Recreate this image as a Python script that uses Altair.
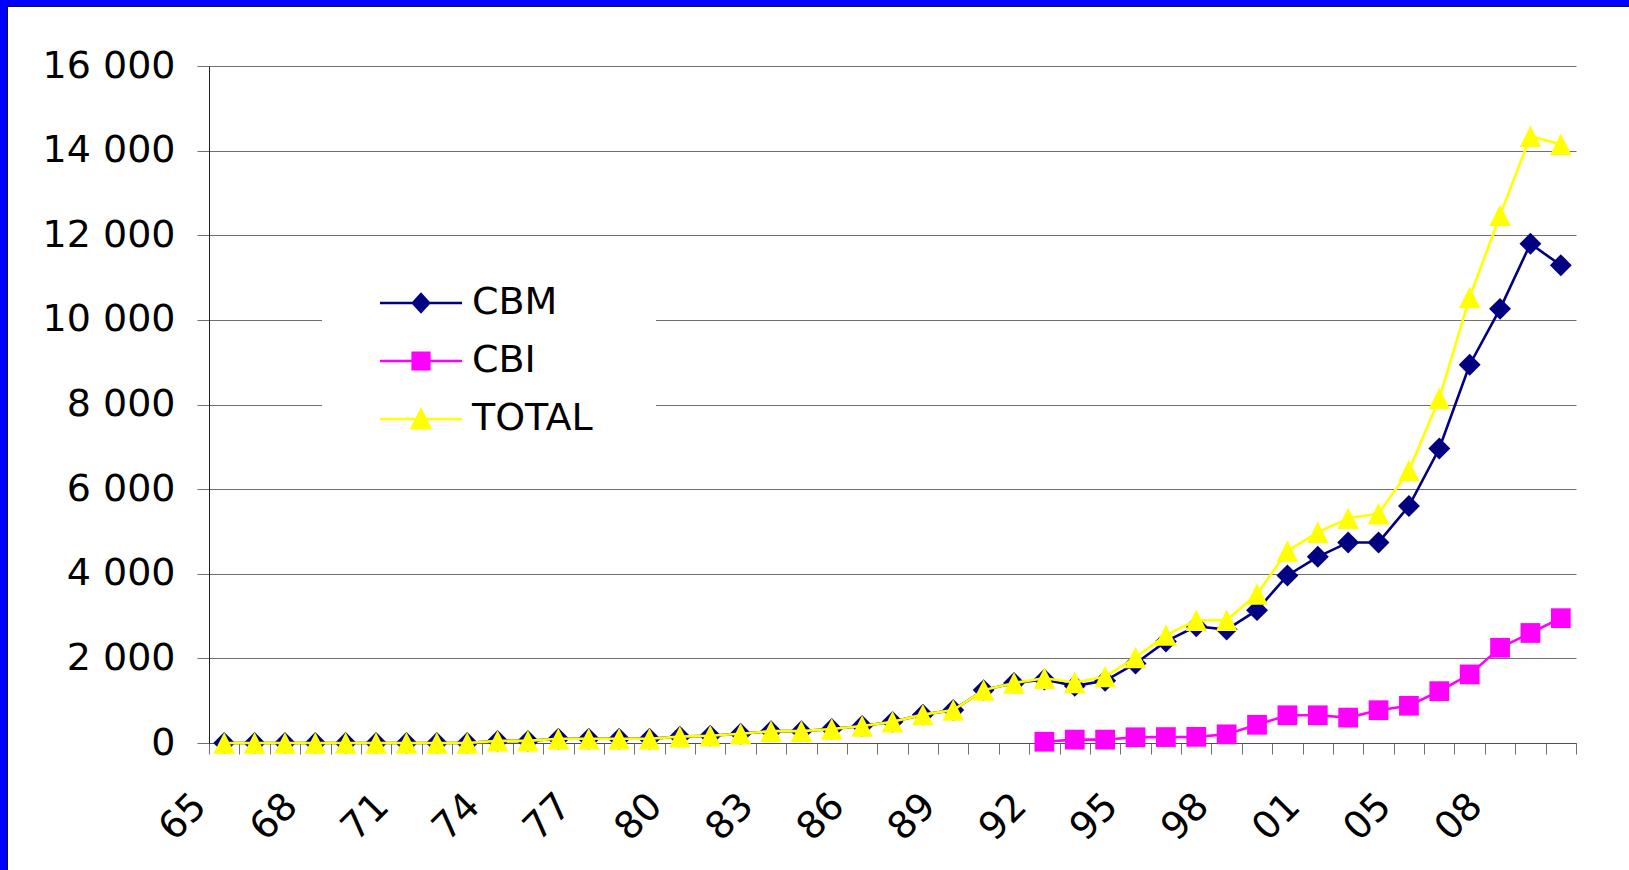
import altair as alt
import pandas as pd

# Two-digit year categories (2004 is not in the series)
YEARS = ["65", "66", "67", "68", "69", "70", "71", "72", "73", "74",
         "75", "76", "77", "78", "79", "80", "81", "82", "83", "84",
         "85", "86", "87", "88", "89", "90", "91", "92", "93", "94",
         "95", "96", "97", "98", "99", "00", "01", "02", "03", "05",
         "06", "07", "08", "09", "10"]
TICK_LABELS = ["65", "68", "71", "74", "77", "80", "83", "86", "89", "92",
               "95", "98", "01", "05", "08"]

CBM = [0, 0, 0, 0, 0, 0, 0, 0, 0, 50,
       50, 100, 100, 100, 100, 150, 170, 220, 280, 280,
       330, 400, 500, 670, 780, 1250, 1420, 1500, 1350, 1470,
       1880, 2400, 2760, 2680, 3140, 3960, 4400, 4740, 4740, 5600,
       6960, 8940, 10260, 11800, 11290]
CBI = [None] * 27 + [30, 80, 80, 135, 140, 145, 205, 430, 655, 655,
                     600, 775, 880, 1225, 1620, 2250, 2600, 2950]
TOTAL = [0, 0, 0, 0, 0, 0, 0, 0, 0, 50,
         50, 100, 100, 100, 100, 150, 170, 220, 280, 280,
         330, 400, 500, 670, 780, 1250, 1420, 1530, 1430, 1570,
         2020, 2550, 2900, 2900, 3520, 4540, 4980, 5310, 5420, 6440,
         8140, 10530, 12470, 14340, 14150]

SERIES = ["CBM", "CBI", "TOTAL"]
COLORS = ["#000080", "#ff00ff", "#ffff00"]
MARKERS = ["diamond", "square", "M0,-1L1,1L-1,1Z"]
MARKER_SIZES = [480, 390, 460]
# legend symbols: a short line segment with the marker drawn in its middle
LEGEND_SYMBOLS = [
    "M-4.1,0L4.1,0M-0.82,0L0,-0.9L0.82,0L0,0.9Z",
    "M-4.1,0L4.1,0M-0.84,-0.84L0.84,-0.84L0.84,0.84L-0.84,0.84Z",
    "M-4.1,0L4.1,0M0,-0.92L0.92,0.92L-0.92,0.92Z",
]

rows = []
for name, vals in zip(SERIES, [CBM, CBI, TOTAL]):
    for yr, v in zip(YEARS, vals):
        if v is not None:
            rows.append({"year": yr, "series": name, "value": v})
df = pd.DataFrame(rows)

FONT = "DejaVu Sans"
W, H = 1367, 677
LEFT, TOP = 209, 66
CANVAS_W, CANVAS_H = 1629, 870

tick_list = "[" + ",".join("'%s'" % t for t in TICK_LABELS) + "]"

X = alt.X(
    "year:N",
    sort=YEARS,
    scale=alt.Scale(type="band", domain=YEARS, paddingInner=0, paddingOuter=0),
    axis=alt.Axis(
        title=None,
        tickBand="extent",
        tickSize=11,
        tickColor="#707070",
        tickWidth=1,
        domainColor="#505050",
        domainWidth=1,
        grid=False,
        labelExpr="indexof(%s, datum.value) >= 0 ? datum.value : ''" % tick_list,
        labelAngle=315,
        labelAlign="right",
        labelBaseline="middle",
        labelOffset=-24,
        labelPadding=46,
        labelFont=FONT,
        labelFontSize=38,
        labelColor="black",
        labelOverlap=False,
        labelBound=False,
    ),
)
Y = alt.Y(
    "value:Q",
    scale=alt.Scale(domain=[0, 16000], nice=False, zero=True),
    axis=alt.Axis(
        title=None,
        values=list(range(0, 16001, 2000)),
        labelExpr="replace(format(datum.value, ','), ',', ' ')",
        tickSize=12,
        tickColor="#707070",
        domainColor="#202020",
        domainWidth=1,
        grid=True,
        gridColor="#707070",
        gridWidth=1,
        labelPadding=22,
        labelFont=FONT,
        labelFontSize=38,
        labelColor="black",
        labelBaseline="middle",
    ),
)

base = alt.Chart(df)

# white panel behind the legend
one = pd.DataFrame({"k": [0]})
legend_panel = alt.Chart(one).mark_rect(fill="white").encode(
    x=alt.value(322 - LEFT), x2=alt.value(656 - LEFT),
    y=alt.value(255 - TOP), y2=alt.value(470 - TOP),
)

layers = [legend_panel]
for name, color, shape, size in zip(SERIES, COLORS, MARKERS, MARKER_SIZES):
    sub = base.transform_filter(alt.datum.series == name)
    layers.append(sub.mark_line(color=color, strokeWidth=2.6).encode(x=X, y=Y))
    layers.append(
        sub.mark_point(filled=True, color=color, shape=shape, size=size,
                       opacity=1, strokeWidth=0).encode(x=X, y=Y)
    )

legend = alt.Legend(
    title=None,
    orient="none",
    legendX=162,
    legendY=218,
    padding=0,
    symbolSize=400,
    symbolStrokeWidth=2.4,
    symbolOffset=31,
    labelOffset=32,
    labelFont=FONT,
    labelFontSize=38,
    labelColor="black",
    labelLimit=0,
    rowPadding=20,
)
legend_layer = base.transform_filter("false").mark_point(
    filled=True, opacity=1, strokeWidth=2.4
).encode(
    x=X, y=Y,
    fill=alt.Fill("series:N", scale=alt.Scale(domain=SERIES, range=COLORS), legend=legend),
    stroke=alt.Stroke("series:N", scale=alt.Scale(domain=SERIES, range=COLORS), legend=legend),
    shape=alt.Shape("series:N", scale=alt.Scale(domain=SERIES, range=LEGEND_SYMBOLS), legend=legend),
)
layers.append(legend_layer)

# blue frame on the left and top edges with a thin dark inner line
frame = [
    alt.Chart(one).mark_rect(fill="#0000ff").encode(
        x=alt.value(-LEFT), x2=alt.value(-LEFT + 7), y=alt.value(-TOP), y2=alt.value(CANVAS_H - TOP)),
    alt.Chart(one).mark_rect(fill="#0000ff").encode(
        x=alt.value(-LEFT), x2=alt.value(CANVAS_W - LEFT), y=alt.value(-TOP), y2=alt.value(-TOP + 6)),
    alt.Chart(one).mark_rect(fill="#101040").encode(
        x=alt.value(-LEFT + 7), x2=alt.value(-LEFT + 8), y=alt.value(-TOP + 6), y2=alt.value(CANVAS_H - TOP)),
    alt.Chart(one).mark_rect(fill="#101040").encode(
        x=alt.value(-LEFT + 7), x2=alt.value(CANVAS_W - LEFT), y=alt.value(-TOP + 6), y2=alt.value(-TOP + 7)),
]
layers.extend(frame)

chart = alt.layer(*layers).properties(
    width=W,
    height=H,
    autosize=alt.AutoSizeParams(type="none"),
    padding={"left": LEFT, "top": TOP, "right": CANVAS_W - LEFT - W, "bottom": CANVAS_H - TOP - H},
    background="white",
).configure_view(stroke=None).configure_legend(symbolStrokeWidth=2.4)

chart.save("out.html", embed_options={"renderer": "svg", "actions": False})
